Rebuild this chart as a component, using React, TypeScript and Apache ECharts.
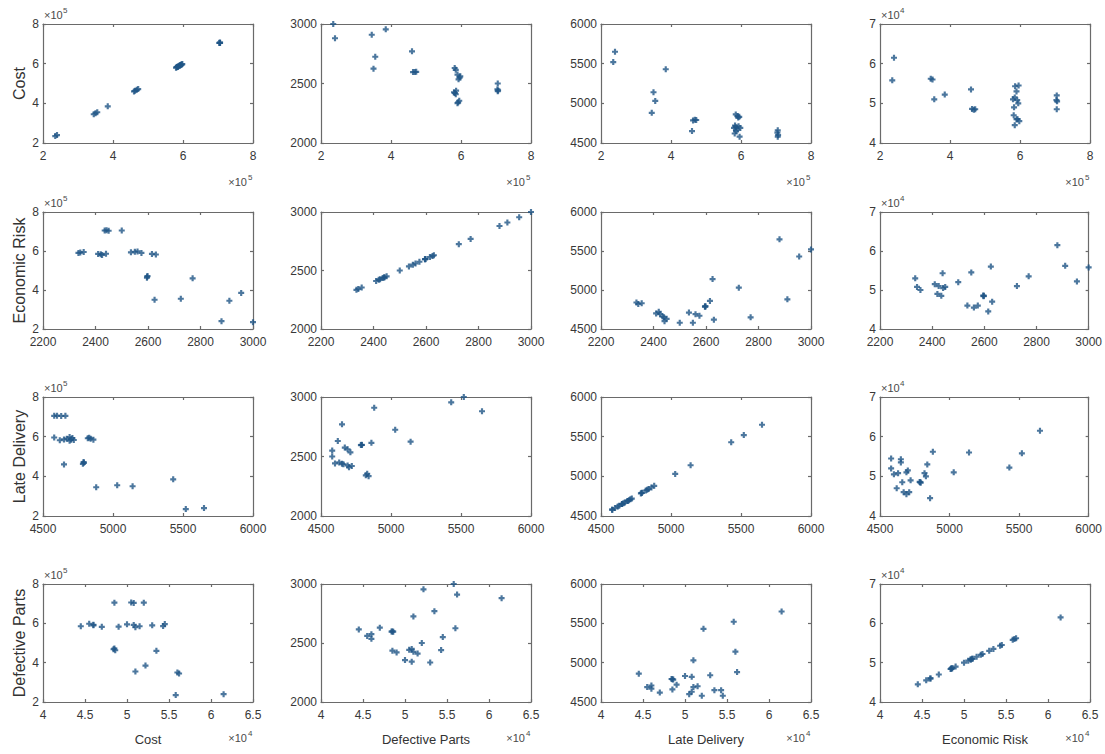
import React, { useEffect, useRef } from "react";
import * as echarts from "echarts";

// Observations (each index is one observation), four variables
const var1 = [590000, 592000, 595000, 585000, 583000, 580000, 705000, 586000, 706000, 704000, 705000, 593000, 596000, 598000, 590000, 472000, 468000, 463000, 585000, 350000, 582000, 355000, 460000, 240000, 345000, 385000, 235000];
const var2 = [2335, 2342, 2355, 2410, 2420, 2425, 2435, 2440, 2442, 2450, 2500, 2535, 2550, 2560, 2575, 2598, 2597, 2596, 2615, 2625, 2630, 2725, 2770, 2880, 2910, 2955, 3000];
const var3 = [4840, 4820, 4830, 4700, 4720, 4690, 4660, 4650, 4600, 4630, 4580, 4710, 4580, 4690, 4670, 4790, 4792, 4785, 4860, 5140, 4620, 5030, 4650, 5650, 4880, 5430, 5520];
const var4 = [53000, 50800, 50000, 51500, 49000, 51000, 48500, 54300, 50500, 50800, 52000, 46000, 54500, 45500, 46000, 48500, 48400, 48600, 44500, 56000, 47000, 51000, 53500, 61500, 56200, 52200, 55800];

const rowLabels = ["Cost", "Economic Risk", "Late Delivery", "Defective Parts"];
const colLabels = ["Cost", "Defective Parts", "Late Delivery", "Economic Risk"];

// axis ranges: x axis by row variable, y axis by column variable
const xMin = [200000, 2200, 4500, 40000];
const xMax = [800000, 3000, 6000, 65000];
const xStep = [200000, 200, 500, 5000];
const yMin = [200000, 2000, 4500, 40000];
const yMax = [800000, 3000, 6000, 70000];
const yStep = [200000, 500, 500, 10000];
const scaleDiv = [100000, 1, 1, 10000];
const expLabel = ["5", "", "", "4"];

const variables = [var1, var2, var3, var4];

const FONT = "'Liberation Sans', Arial, sans-serif";
const AXIS_COLOR = "#6a6a6a";
const TEXT_COLOR = "#383838";
const MARK_COLOR = "#1f5586";

const rowTop = [24, 212, 397, 584];
const rowH = [119, 117, 119, 118];
const colLeft = [43, 321, 601, 880];
const colW = 210;

export default function App() {
  const ref = useRef<HTMLDivElement>(null);
  useEffect(() => {
    document.body.style.margin = "0";
    const chart = echarts.init(ref.current!, undefined, { renderer: "svg" });
    const grids: any[] = [];
    const xAxes: any[] = [];
    const yAxes: any[] = [];
    const series: any[] = [];
    const graphic: any[] = [];
    const lineStyle = { color: AXIS_COLOR, width: 1.2 };
    for (let r = 0; r < 4; r++) {
      for (let c = 0; c < 4; c++) {
        const k = r * 4 + c;
        grids.push({ left: colLeft[c], top: rowTop[r], width: colW, height: rowH[r], containLabel: false });
        const xBase = {
          gridIndex: k, type: "value", min: xMin[r], max: xMax[r], interval: xStep[r],
          axisLine: { show: true, onZero: false, lineStyle },
          axisTick: { show: true, inside: true, length: 3, lineStyle },
          splitLine: { show: false },
        };
        xAxes.push({
          ...xBase, position: "bottom",
          axisLabel: {
            show: true, color: TEXT_COLOR, fontSize: 12, fontFamily: FONT, margin: 7,
            showMinLabel: true, showMaxLabel: true,
            formatter: (v: number) => String(+(v / scaleDiv[r]).toFixed(2)),
          },
        });
        xAxes.push({ ...xBase, position: "top", axisLabel: { show: false } });
        const yBase = {
          gridIndex: k, type: "value", min: yMin[c], max: yMax[c], interval: yStep[c],
          axisLine: { show: true, onZero: false, lineStyle },
          axisTick: { show: true, inside: true, length: 3, lineStyle },
          splitLine: { show: false },
        };
        yAxes.push({
          ...yBase, position: "left",
          axisLabel: {
            show: true, color: TEXT_COLOR, fontSize: 12, fontFamily: FONT, margin: 4,
            showMinLabel: true, showMaxLabel: true,
            formatter: (v: number) => String(+(v / scaleDiv[c]).toFixed(2)),
          },
        });
        yAxes.push({ ...yBase, position: "right", axisLabel: { show: false } });
        series.push({
          type: "scatter",
          xAxisIndex: 2 * k,
          yAxisIndex: 2 * k,
          symbol: "path://M1.6,0H3.4V1.6H5V3.4H3.4V5H1.6V3.4H0V1.6H1.6Z",
          symbolSize: 6,
          itemStyle: { color: MARK_COLOR },
          data: variables[r].map((v, i) => [v, variables[c][i]]),
        });
        // y exponent labels (top-left)
        if (expLabel[c]) {
          graphic.push({
            type: "text", x: colLeft[c] + 1, y: rowTop[r] - 9,
            style: { text: "×10", fontSize: 11, fontFamily: FONT, fill: "#4a4a4a", align: "left", verticalAlign: "middle" },
          });
          graphic.push({
            type: "text", x: colLeft[c] + 20, y: rowTop[r] - 14,
            style: { text: expLabel[c], fontSize: 8, fontFamily: FONT, fill: "#4a4a4a", align: "left", verticalAlign: "middle" },
          });
        }
        // x exponent labels (bottom-right)
        if (expLabel[r]) {
          const yy = rowTop[r] + rowH[r] + (r === 3 ? 36 : 39);
          graphic.push({
            type: "text", x: colLeft[c] + colW - 6, y: yy,
            style: { text: "×10", fontSize: 11, fontFamily: FONT, fill: "#4a4a4a", align: "right", verticalAlign: "middle" },
          });
          graphic.push({
            type: "text", x: colLeft[c] + colW - 5, y: yy - 5,
            style: { text: expLabel[r], fontSize: 8, fontFamily: FONT, fill: "#4a4a4a", align: "left", verticalAlign: "middle" },
          });
        }
      }
    }
    for (let r = 0; r < 4; r++) {
      graphic.push({
        type: "text", x: 19, y: rowTop[r] + rowH[r] / 2, rotation: Math.PI / 2,
        style: { text: rowLabels[r], fontSize: 16, fontFamily: FONT, fill: "#333", align: "center", verticalAlign: "middle" },
      });
    }
    for (let c = 0; c < 4; c++) {
      graphic.push({
        type: "text", x: colLeft[c] + colW / 2, y: 739,
        style: { text: colLabels[c], fontSize: 13, fontFamily: FONT, fill: "#333", align: "center", verticalAlign: "middle" },
      });
    }
    chart.setOption({
      animation: false,
      backgroundColor: "#ffffff",
      grid: grids,
      xAxis: xAxes,
      yAxis: yAxes,
      series,
      graphic,
    });
    return () => chart.dispose();
  }, []);
  return <div ref={ref} style={{ width: 1105, height: 754 }} />;
}
